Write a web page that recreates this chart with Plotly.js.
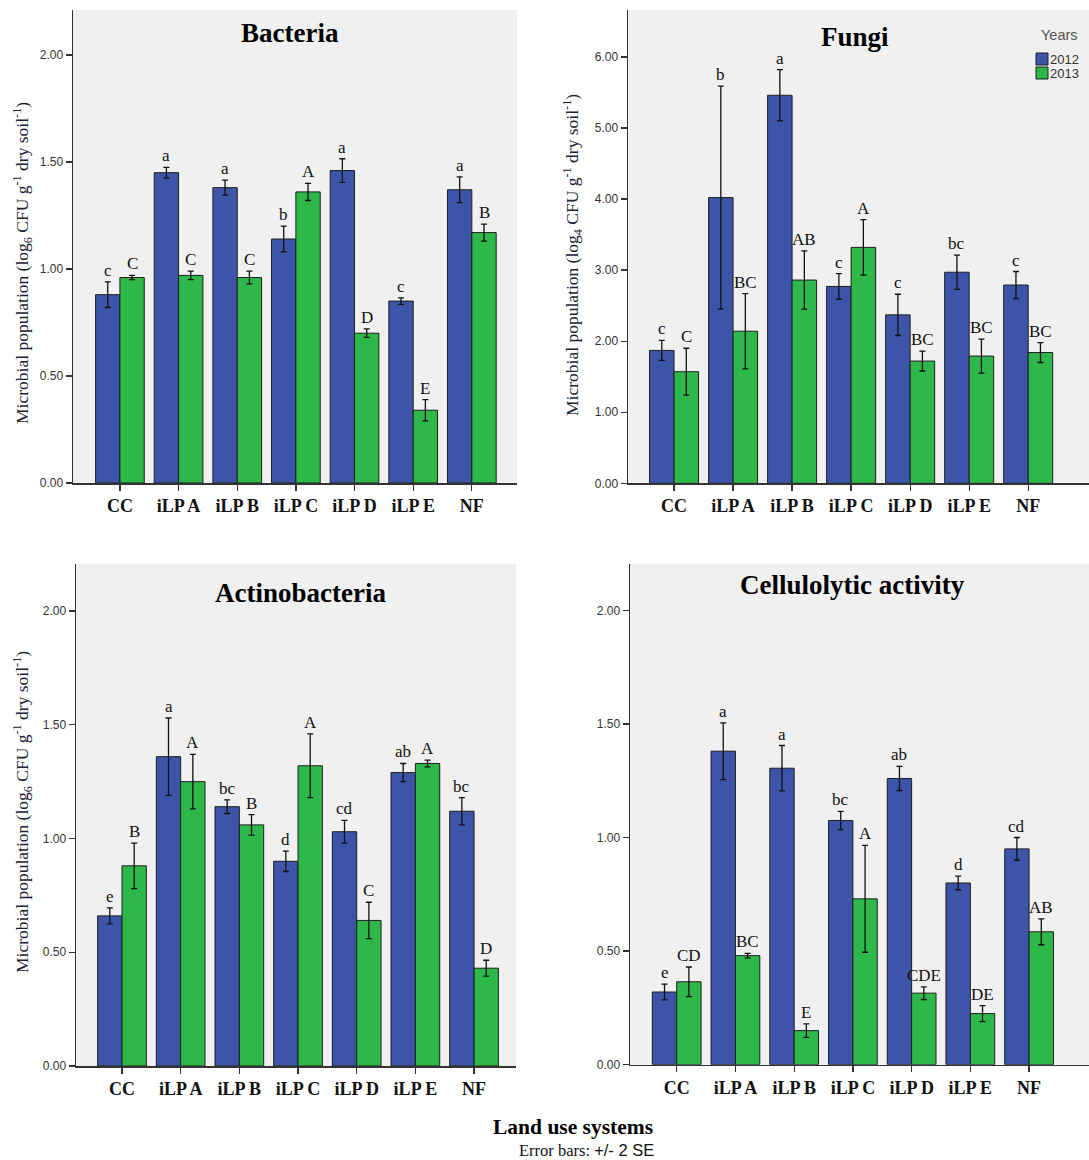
<!DOCTYPE html>
<html>
<head>
<meta charset="utf-8">
<script src="https://cdn.plot.ly/plotly-3.0.1.min.js"></script>
<style>html,body{margin:0;padding:0;background:#fff;}#chart{width:1089px;height:1160px;}</style>
</head>
<body>
<div id="chart"></div>
<script>
// ---- Data ----
const categories = ['CC', 'iLP A', 'iLP B', 'iLP C', 'iLP D', 'iLP E', 'NF'];
const years = ['2012', '2013'];

const bacteria2012 = [0.88, 1.45, 1.38, 1.14, 1.46, 0.85, 1.37];
const bacteria2012Err = [0.06, 0.025, 0.035, 0.06, 0.055, 0.015, 0.06];
const bacteria2013 = [0.96, 0.97, 0.96, 1.36, 0.70, 0.34, 1.17];
const bacteria2013Err = [0.01, 0.02, 0.03, 0.04, 0.02, 0.05, 0.04];
const bacteria2012Letters = ['c', 'a', 'a', 'b', 'a', 'c', 'a'];
const bacteria2013Letters = ['C', 'C', 'C', 'A', 'D', 'E', 'B'];

const fungi2012 = [1.87, 4.02, 5.46, 2.77, 2.37, 2.97, 2.79];
const fungi2012Err = [0.14, 1.57, 0.36, 0.18, 0.29, 0.24, 0.19];
const fungi2013 = [1.57, 2.14, 2.86, 3.32, 1.72, 1.79, 1.84];
const fungi2013Err = [0.33, 0.53, 0.41, 0.39, 0.14, 0.24, 0.14];
const fungi2012Letters = ['c', 'b', 'a', 'c', 'c', 'bc', 'c'];
const fungi2013Letters = ['C', 'BC', 'AB', 'A', 'BC', 'BC', 'BC'];

const actino2012 = [0.66, 1.36, 1.14, 0.90, 1.03, 1.29, 1.12];
const actino2012Err = [0.035, 0.17, 0.03, 0.045, 0.05, 0.04, 0.06];
const actino2013 = [0.88, 1.25, 1.06, 1.32, 0.64, 1.33, 0.43];
const actino2013Err = [0.10, 0.12, 0.045, 0.14, 0.08, 0.015, 0.035];
const actino2012Letters = ['e', 'a', 'bc', 'd', 'cd', 'ab', 'bc'];
const actino2013Letters = ['B', 'A', 'B', 'A', 'C', 'A', 'D'];

const cellulo2012 = [0.32, 1.38, 1.305, 1.075, 1.26, 0.80, 0.95];
const cellulo2012Err = [0.035, 0.125, 0.10, 0.04, 0.053, 0.03, 0.05];
const cellulo2013 = [0.365, 0.48, 0.15, 0.73, 0.315, 0.225, 0.585];
const cellulo2013Err = [0.065, 0.01, 0.03, 0.235, 0.028, 0.035, 0.057];
const cellulo2012Letters = ['e', 'a', 'a', 'bc', 'ab', 'd', 'cd'];
const cellulo2013Letters = ['CD', 'BC', 'E', 'A', 'CDE', 'DE', 'AB'];

const panelTitles = ['Bacteria', 'Fungi', 'Actinobacteria', 'Cellulolytic activity'];
const yTitles = [
  'Microbial population (log<sub>6</sub> CFU g<sup>-1</sup> dry soil<sup>-1</sup>)',
  'Microbial population (log<sub>4</sub> CFU g<sup>-1</sup> dry soil<sup>-1</sup>)',
  'Microbial population (log<sub>6</sub> CFU g<sup>-1</sup> dry soil<sup>-1</sup>)',
  ''
];
const xAxisTitle = 'Land use systems';
const footnoteA = 'Error bars:';
const footnoteB = '+/- 2 SE';
const legendTitle = 'Years';

// ---- Styles ----
const BLUE = '#3d55a8';
const GREEN = '#2eb84a';
const COLORS = [BLUE, GREEN];
const SERIF = 'Liberation Serif, Times New Roman, serif';
const SANS = 'Liberation Sans, Arial, sans-serif';
const W = 1089, H = 1160;
const BARGAP = 0.17;
const OFF = (1 - BARGAP) / 4;

const panels = [
  {s2012: bacteria2012, e2012: bacteria2012Err, s2013: bacteria2013, e2013: bacteria2013Err, l2012: bacteria2012Letters, l2013: bacteria2013Letters,
   xd: [73, 517], yd: [10, 483], xr: [-0.80, 6.77], yr: [0, 2.21], dtick: 0.5},
  {s2012: fungi2012, e2012: fungi2012Err, s2013: fungi2013, e2013: fungi2013Err, l2012: fungi2012Letters, l2013: fungi2013Letters,
   xd: [628, 1089], yd: [10, 483.3], xr: [-0.78, 7.03], yr: [0, 6.66], dtick: 1},
  {s2012: actino2012, e2012: actino2012Err, s2013: actino2013, e2013: actino2013Err, l2012: actino2012Letters, l2013: actino2013Letters,
   xd: [76, 516], yd: [564, 1066], xr: [-0.784, 6.715], yr: [0, 2.207], dtick: 0.5},
  {s2012: cellulo2012, e2012: cellulo2012Err, s2013: cellulo2013, e2013: cellulo2013Err, l2012: cellulo2012Letters, l2013: cellulo2013Letters,
   xd: [630, 1089], yd: [564, 1064.7], xr: [-0.795, 7.02], yr: [0, 2.204], dtick: 0.5}
];
const titlePos = [[290, 33], [855, 37], [300, 593], [852, 585]];
const yTitlePos = [[22, 263], [572, 255], [22, 812], [0, 0]];

const traces = [];
const annotations = [];
const shapes = [];
const layout = {
  width: W, height: H,
  margin: {l: 0, r: 0, t: 0, b: 0},
  paper_bgcolor: '#ffffff',
  plot_bgcolor: '#f0f0f0',
  barmode: 'group',
  bargap: BARGAP,
  bargroupgap: 0,
  showlegend: false,
  font: {family: SERIF, color: '#111'}
};

panels.forEach((p, i) => {
  const n = i + 1;
  const xa = 'xaxis' + (n === 1 ? '' : n), ya = 'yaxis' + (n === 1 ? '' : n);
  const xr = 'x' + (n === 1 ? '' : n), yr = 'y' + (n === 1 ? '' : n);
  layout[xa] = {
    domain: [p.xd[0] / W, p.xd[1] / W], anchor: yr, type: 'category', range: p.xr,
    showline: true, linecolor: '#333', linewidth: 1.5, ticks: 'outside', ticklen: 6, tickcolor: '#333', tickwidth: 1.3,
    tickfont: {family: SERIF, size: 18, color: '#111', weight: 'bold'},
    showgrid: false, zeroline: false, fixedrange: true
  };
  layout[ya] = {
    domain: [1 - p.yd[1] / H, 1 - p.yd[0] / H], anchor: xr, range: p.yr, dtick: p.dtick, tick0: 0, tickformat: '.2f',
    showline: true, linecolor: '#333', linewidth: 1.5, ticks: 'outside', ticklen: 6, tickcolor: '#333', tickwidth: 1.3,
    tickfont: {family: SANS, size: 12, color: '#333'},
    showgrid: false, zeroline: false, fixedrange: true
  };
  const series = [[p.s2012, p.e2012, BLUE, p.l2012, -OFF], [p.s2013, p.e2013, GREEN, p.l2013, OFF]];
  series.forEach((s, k) => {
    traces.push({
      type: 'bar', x: categories, y: s[0], name: years[k], xaxis: xr, yaxis: yr,
      legendgroup: years[k],
      marker: {color: s[2], line: {color: '#1e1e1e', width: 1}},
      error_y: {type: 'data', array: s[1], visible: true, color: '#111', thickness: 1.3, width: 3}
    });
    categories.forEach((c, j) => {
      annotations.push({
        xref: xr, yref: yr, x: j + s[4], y: s[0][j] + s[1][j], text: s[3][j],
        showarrow: false, yanchor: 'bottom', xanchor: 'center', yshift: 0,
        font: {family: SERIF, size: 17, color: '#111'}
      });
    });
  });
  annotations.push({
    xref: 'paper', yref: 'paper', x: titlePos[i][0] / W, y: 1 - titlePos[i][1] / H, text: panelTitles[i],
    showarrow: false, xanchor: 'center', yanchor: 'middle',
    font: {family: SERIF, size: 27, color: '#000', weight: 'bold'}
  });
  if (yTitles[i]) {
    annotations.push({
      xref: 'paper', yref: 'paper', x: yTitlePos[i][0] / W, y: 1 - yTitlePos[i][1] / H, text: yTitles[i],
      showarrow: false, xanchor: 'center', yanchor: 'middle', textangle: -90,
      font: {family: SERIF, size: 17.5, color: '#1c2233'}
    });
  }
});

// Legend (Years) inside Fungi panel, SPSS-style compact
annotations.push({
  xref: 'paper', yref: 'paper', x: 1039 / W, y: 1 - 35 / H, text: legendTitle,
  showarrow: false, xanchor: 'left', yanchor: 'middle',
  font: {family: SANS, size: 14.5, color: '#555'}
});
years.forEach((yr, k) => {
  const top = 53 + k * 14;
  shapes.push({
    type: 'rect', xref: 'paper', yref: 'paper',
    x0: 1036 / W, x1: 1048 / W, y0: 1 - (top + 12) / H, y1: 1 - top / H,
    fillcolor: COLORS[k], line: {color: '#1e1e1e', width: 1}
  });
  annotations.push({
    xref: 'paper', yref: 'paper', x: 1049 / W, y: 1 - (top + 6.5) / H, text: yr,
    showarrow: false, xanchor: 'left', yanchor: 'middle', borderpad: 0,
    font: {family: SANS, size: 13, color: '#333'}
  });
});

annotations.push({
  xref: 'paper', yref: 'paper', x: 573 / W, y: 1 - 1127 / H, text: xAxisTitle,
  showarrow: false, xanchor: 'center', yanchor: 'middle',
  font: {family: SERIF, size: 21.5, color: '#000', weight: 'bold'}
});
annotations.push({
  xref: 'paper', yref: 'paper', x: 586 / W, y: 1 - 1150 / H,
  text: footnoteA + ' <span style="font-family:' + SANS + '">' + footnoteB + '</span>',
  showarrow: false, xanchor: 'center', yanchor: 'middle', borderpad: 0,
  font: {family: SERIF, size: 16.5, color: '#111'}
});
layout.annotations = annotations;
layout.shapes = shapes;

Plotly.newPlot('chart', traces, layout, {displayModeBar: false, staticPlot: true});
</script>
</body>
</html>
